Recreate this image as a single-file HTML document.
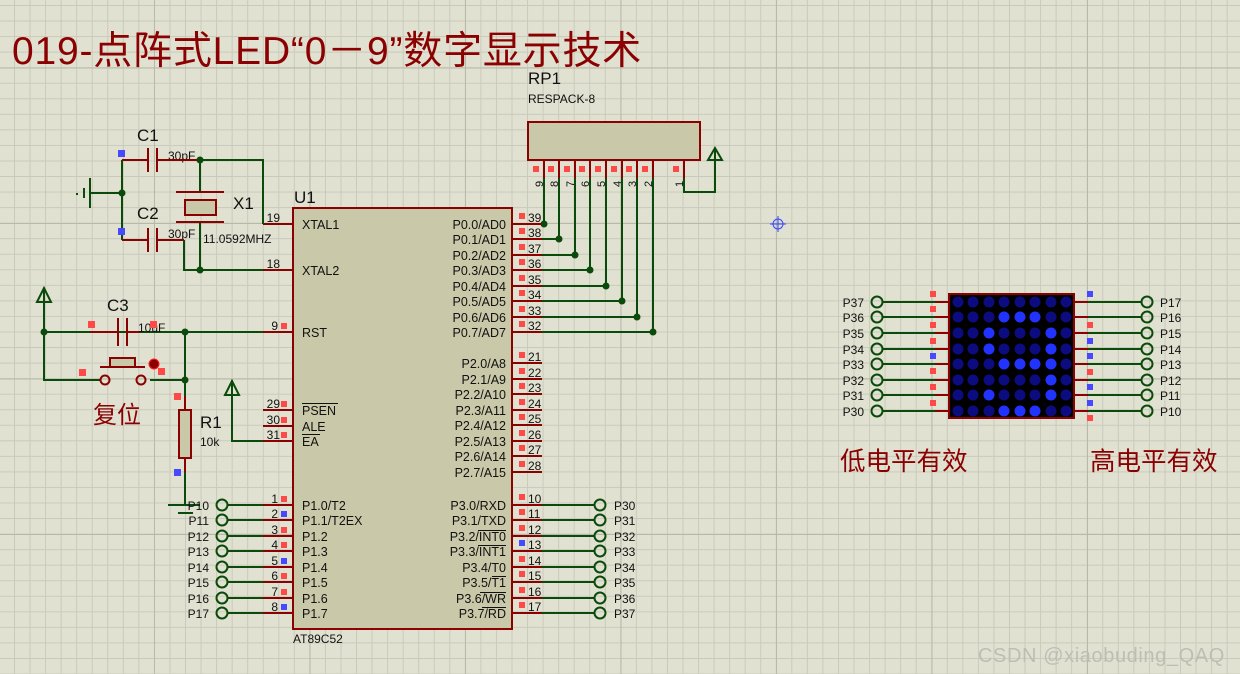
<!DOCTYPE html>
<html><head><meta charset="utf-8"><style>
html,body{margin:0;padding:0}
body{width:1240px;height:674px;overflow:hidden;background-color:#e1e1d2;
background-image:
linear-gradient(to right,#b9b9aa 1px,transparent 1px),
linear-gradient(to bottom,#b9b9aa 1px,transparent 1px),
linear-gradient(to right,#cacabb 1px,transparent 1px),
linear-gradient(to bottom,#cacabb 1px,transparent 1px);
background-size:155.5px 155.5px,155.5px 155.5px,15.55px 15.55px,15.55px 15.55px;
background-position:154px 0,0 223px,14px 0,0 5px;}
svg{position:absolute;left:0;top:0}
text{font-family:"Liberation Sans","Noto Sans CJK SC",sans-serif;fill:#111}
.w{stroke:#0a4a0a;stroke-width:2;fill:none}
.p{stroke:#8b0000;stroke-width:2;fill:none}
.j{fill:#0a4a0a}
.r{fill:#ff4848}.b{fill:#4848ff}
.t{stroke:#0a4a0a;stroke-width:2;fill:none}
.s{font-size:12.5px}
.d{fill:#0c0c80}.B{fill:#2233ff}
</style></head><body>
<svg width="1240" height="674" viewBox="0 0 1240 674">
<text x="12" y="64" font-size="39" letter-spacing="0.8" style="fill:#8b0000">019-点阵式LED“0－9”数字显示技术</text>

<!-- RP1 -->
<text x="528" y="84" font-size="17">RP1</text>
<text x="528" y="103" font-size="12">RESPACK-8</text>
<rect x="528" y="122" width="172" height="38" fill="#c9c9a9" stroke="#8b0000" stroke-width="2"/>
<g class="p"><path d="M544 160V178M559 160V178M575 160V178M590 160V178M606 160V178M622 160V178M637 160V178M653 160V178M684 160V178"/></g>
<g class="r"><rect x="533" y="166" width="6" height="6"/><rect x="548" y="166" width="6" height="6"/><rect x="564" y="166" width="6" height="6"/><rect x="579" y="166" width="6" height="6"/><rect x="595" y="166" width="6" height="6"/><rect x="611" y="166" width="6" height="6"/><rect x="626" y="166" width="6" height="6"/><rect x="642" y="166" width="6" height="6"/><rect x="673" y="166" width="6" height="6"/></g>
<g font-size="11">
<text transform="translate(543,187) rotate(-90)">9</text><text transform="translate(558,187) rotate(-90)">8</text><text transform="translate(574,187) rotate(-90)">7</text><text transform="translate(589,187) rotate(-90)">6</text><text transform="translate(605,187) rotate(-90)">5</text><text transform="translate(621,187) rotate(-90)">4</text><text transform="translate(636,187) rotate(-90)">3</text><text transform="translate(652,187) rotate(-90)">2</text><text transform="translate(683,187) rotate(-90)">1</text></g>
<path class="w" d="M544 178V224H542M559 178V239H542M575 178V255H542M590 178V270H542M606 178V286H542M622 178V301H542M637 178V317H542M653 178V332H542M684 178V192H715V160"/>
<path class="t" d="M715 160V148M708 160L715 148L722 160Z"/>
<g class="j"><circle cx="544" cy="224" r="3.5"/><circle cx="559" cy="239" r="3.5"/><circle cx="575" cy="255" r="3.5"/><circle cx="590" cy="270" r="3.5"/><circle cx="606" cy="286" r="3.5"/><circle cx="622" cy="301" r="3.5"/><circle cx="637" cy="317" r="3.5"/><circle cx="653" cy="332" r="3.5"/></g>

<!-- crosshair -->
<g stroke="#3344ff" stroke-width="1" fill="none"><circle cx="778" cy="224" r="5"/><path d="M770 224H786M778 216V232"/></g>

<!-- U1 -->
<text x="294" y="203" font-size="17">U1</text>
<rect x="293" y="208" width="219" height="421" fill="#c9c9a9" stroke="#8b0000" stroke-width="2"/>
<text x="293" y="643" font-size="12">AT89C52</text>
<g class="p"><path d="M263 224H293M263 270H293M263 332H293M263 410H293M263 426H293M263 441H293
M263 505H293M263 520H293M263 536H293M263 551H293M263 567H293M263 582H293M263 598H293M263 613H293
M512 224H542M512 239H542M512 255H542M512 270H542M512 286H542M512 301H542M512 317H542M512 332H542
M512 363H542M512 379H542M512 394H542M512 410H542M512 425H542M512 441H542M512 456H542M512 472H542
M512 505H542M512 520H542M512 536H542M512 551H542M512 567H542M512 582H542M512 598H542M512 613H542"/></g>
<g class="s">
<text x="302" y="229">XTAL1</text><text x="302" y="275">XTAL2</text><text x="302" y="337">RST</text>
<text x="302" y="415">PSEN</text><text x="302" y="431">ALE</text><text x="302" y="446">EA</text>
<text x="302" y="510">P1.0/T2</text><text x="302" y="525">P1.1/T2EX</text><text x="302" y="541">P1.2</text><text x="302" y="556">P1.3</text><text x="302" y="572">P1.4</text><text x="302" y="587">P1.5</text><text x="302" y="603">P1.6</text><text x="302" y="618">P1.7</text>
<g text-anchor="end">
<text x="506" y="229">P0.0/AD0</text><text x="506" y="244">P0.1/AD1</text><text x="506" y="260">P0.2/AD2</text><text x="506" y="275">P0.3/AD3</text><text x="506" y="291">P0.4/AD4</text><text x="506" y="306">P0.5/AD5</text><text x="506" y="322">P0.6/AD6</text><text x="506" y="337">P0.7/AD7</text>
<text x="506" y="368">P2.0/A8</text><text x="506" y="384">P2.1/A9</text><text x="506" y="399">P2.2/A10</text><text x="506" y="415">P2.3/A11</text><text x="506" y="430">P2.4/A12</text><text x="506" y="446">P2.5/A13</text><text x="506" y="461">P2.6/A14</text><text x="506" y="477">P2.7/A15</text>
<text x="506" y="510">P3.0/RXD</text><text x="506" y="525">P3.1/TXD</text><text x="506" y="541">P3.2/INT0</text><text x="506" y="556">P3.3/INT1</text><text x="506" y="572">P3.4/T0</text><text x="506" y="587">P3.5/T1</text><text x="506" y="603">P3.6/WR</text><text x="506" y="618">P3.7/RD</text>
</g></g>
<g stroke="#111" stroke-width="1"><path d="M302 403.5H338M302 434.5H320M478 530.5H506M478 545.5H506M492 576.5H506M480 592.5H506M482 607.5H506"/></g>
<g font-size="12" text-anchor="end">
<text x="280" y="222">19</text><text x="280" y="268">18</text><text x="278" y="330">9</text><text x="280" y="408">29</text><text x="280" y="424">30</text><text x="280" y="439">31</text>
<text x="278" y="503">1</text><text x="278" y="518">2</text><text x="278" y="534">3</text><text x="278" y="549">4</text><text x="278" y="565">5</text><text x="278" y="580">6</text><text x="278" y="596">7</text><text x="278" y="611">8</text>
</g>
<g font-size="12">
<text x="528" y="222">39</text><text x="528" y="237">38</text><text x="528" y="253">37</text><text x="528" y="268">36</text><text x="528" y="284">35</text><text x="528" y="299">34</text><text x="528" y="315">33</text><text x="528" y="330">32</text>
<text x="528" y="361">21</text><text x="528" y="377">22</text><text x="528" y="392">23</text><text x="528" y="408">24</text><text x="528" y="423">25</text><text x="528" y="439">26</text><text x="528" y="454">27</text><text x="528" y="470">28</text>
<text x="528" y="503">10</text><text x="528" y="518">11</text><text x="528" y="534">12</text><text x="528" y="549">13</text><text x="528" y="565">14</text><text x="528" y="580">15</text><text x="528" y="596">16</text><text x="528" y="611">17</text>
</g>
<g class="r">
<rect x="281" y="323" width="6" height="6"/><rect x="281" y="401" width="6" height="6"/><rect x="281" y="417" width="6" height="6"/><rect x="281" y="432" width="6" height="6"/><rect x="281" y="496" width="6" height="6"/><rect x="281" y="527" width="6" height="6"/><rect x="281" y="542" width="6" height="6"/><rect x="281" y="573" width="6" height="6"/><rect x="281" y="589" width="6" height="6"/>
<rect x="519" y="213" width="6" height="6"/><rect x="519" y="228" width="6" height="6"/><rect x="519" y="244" width="6" height="6"/><rect x="519" y="259" width="6" height="6"/><rect x="519" y="275" width="6" height="6"/><rect x="519" y="290" width="6" height="6"/><rect x="519" y="306" width="6" height="6"/><rect x="519" y="321" width="6" height="6"/>
<rect x="519" y="352" width="6" height="6"/><rect x="519" y="368" width="6" height="6"/><rect x="519" y="383" width="6" height="6"/><rect x="519" y="399" width="6" height="6"/><rect x="519" y="414" width="6" height="6"/><rect x="519" y="430" width="6" height="6"/><rect x="519" y="445" width="6" height="6"/><rect x="519" y="461" width="6" height="6"/>
<rect x="519" y="494" width="6" height="6"/><rect x="519" y="509" width="6" height="6"/><rect x="519" y="525" width="6" height="6"/><rect x="519" y="556" width="6" height="6"/><rect x="519" y="571" width="6" height="6"/><rect x="519" y="587" width="6" height="6"/><rect x="519" y="602" width="6" height="6"/>
</g>
<g class="b"><rect x="281" y="511" width="6" height="6"/><rect x="281" y="558" width="6" height="6"/><rect x="281" y="604" width="6" height="6"/><rect x="519" y="540" width="6" height="6"/></g>

<!-- crystal -->
<text x="137" y="141" font-size="17">C1</text><text x="137" y="219" font-size="17">C2</text>
<text x="168" y="160" font-size="12">30pF</text><text x="168" y="238" font-size="12">30pF</text>
<text x="233" y="209" font-size="17">X1</text><text x="203" y="243" font-size="12">11.0592MHZ</text>
<path class="w" d="M122 160V240M90 193H122M200 160H263V224M184 240V270H263M200 222V270M200 160V192"/>
<path class="p" d="M122 160H148M157 160H200M122 240H148M157 240H184M148 148V172M157 148V172M148 228V252M157 228V252M176 192H224M176 222H224"/>
<rect x="185" y="200" width="31" height="15" fill="#c9c9a9" stroke="#8b0000" stroke-width="2"/>
<path class="w" d="M90 178V208M84 188V198M77 193V195"/>
<g class="j"><circle cx="122" cy="193" r="3.5"/><circle cx="200" cy="160" r="3.5"/><circle cx="200" cy="270" r="3.5"/></g>
<g class="b"><rect x="118" y="150" width="7" height="7"/><rect x="118" y="228" width="7" height="7"/></g>

<!-- reset -->
<path class="t" d="M44 302V288M37 302L44 288L51 302Z"/>
<path class="w" d="M44 302V380H100M44 332H90M98 332H263M185 332V410M150 380H185M185 458V505M232 395V441H263"/>
<path class="t" d="M232 395V380M225 395L232 381L239 395Z"/>
<path class="p" d="M90 332H118M127 332H140M118 318V346M127 318V346M100 367H145M185 396V410M185 458V472"/>
<rect x="110" y="358" width="25" height="9" fill="#c9c9a9" stroke="#8b0000" stroke-width="2"/>
<circle cx="105" cy="380" r="4.5" fill="none" stroke="#8b0000" stroke-width="2"/>
<circle cx="141" cy="380" r="4.5" fill="none" stroke="#8b0000" stroke-width="2"/>
<circle cx="154" cy="364" r="5" fill="#8b0000" stroke="#ff2020"/>
<rect x="179" y="410" width="12" height="48" fill="#c9c9a9" stroke="#8b0000" stroke-width="2"/>
<path class="w" d="M168 505H200M178 513H193"/>
<g class="j"><circle cx="44" cy="332" r="3.5"/><circle cx="185" cy="332" r="3.5"/><circle cx="185" cy="380" r="3.5"/></g>
<text x="107" y="311" font-size="17">C3</text><text x="138" y="332" font-size="12">10uF</text>
<text x="200" y="428" font-size="17">R1</text><text x="200" y="446" font-size="12">10k</text>
<text x="93" y="423" font-size="24" style="fill:#8b0000">复位</text>
<g class="r"><rect x="88" y="321" width="7" height="7"/><rect x="150" y="321" width="7" height="7"/><rect x="79" y="369" width="7" height="7"/><rect x="158" y="368" width="7" height="7"/><rect x="174" y="393" width="7" height="7"/></g>
<rect x="174" y="469" width="7" height="7" class="b"/>

<!-- P1 terminals -->
<path class="w" d="M228 505H263M228 520H263M228 536H263M228 551H263M228 567H263M228 582H263M228 598H263M228 613H263"/>
<g fill="none" stroke="#0a4a0a" stroke-width="2"><circle cx="222" cy="505" r="5.5"/><circle cx="222" cy="520" r="5.5"/><circle cx="222" cy="536" r="5.5"/><circle cx="222" cy="551" r="5.5"/><circle cx="222" cy="567" r="5.5"/><circle cx="222" cy="582" r="5.5"/><circle cx="222" cy="598" r="5.5"/><circle cx="222" cy="613" r="5.5"/></g>
<g font-size="12" text-anchor="end"><text x="209" y="510">P10</text><text x="209" y="525">P11</text><text x="209" y="541">P12</text><text x="209" y="556">P13</text><text x="209" y="572">P14</text><text x="209" y="587">P15</text><text x="209" y="603">P16</text><text x="209" y="618">P17</text></g>

<!-- P3 terminals -->
<path class="w" d="M542 505H594M542 520H594M542 536H594M542 551H594M542 567H594M542 582H594M542 598H594M542 613H594"/>
<g fill="none" stroke="#0a4a0a" stroke-width="2"><circle cx="600" cy="505" r="5.5"/><circle cx="600" cy="520" r="5.5"/><circle cx="600" cy="536" r="5.5"/><circle cx="600" cy="551" r="5.5"/><circle cx="600" cy="567" r="5.5"/><circle cx="600" cy="582" r="5.5"/><circle cx="600" cy="598" r="5.5"/><circle cx="600" cy="613" r="5.5"/></g>
<g font-size="12"><text x="614" y="510">P30</text><text x="614" y="525">P31</text><text x="614" y="541">P32</text><text x="614" y="556">P33</text><text x="614" y="572">P34</text><text x="614" y="587">P35</text><text x="614" y="603">P36</text><text x="614" y="618">P37</text></g>

<!-- matrix -->
<path class="w" d="M883 302H935M883 317H935M883 333H935M883 349H935M883 364H935M883 380H935M883 395H935M883 411H935
M1088 302H1141M1088 317H1141M1088 333H1141M1088 349H1141M1088 364H1141M1088 380H1141M1088 395H1141M1088 411H1141"/>
<path class="p" d="M935 302H949M935 317H949M935 333H949M935 349H949M935 364H949M935 380H949M935 395H949M935 411H949
M1074 302H1088M1074 317H1088M1074 333H1088M1074 349H1088M1074 364H1088M1074 380H1088M1074 395H1088M1074 411H1088"/>
<g fill="none" stroke="#0a4a0a" stroke-width="2">
<circle cx="877" cy="302" r="5.5"/><circle cx="877" cy="317" r="5.5"/><circle cx="877" cy="333" r="5.5"/><circle cx="877" cy="349" r="5.5"/><circle cx="877" cy="364" r="5.5"/><circle cx="877" cy="380" r="5.5"/><circle cx="877" cy="395" r="5.5"/><circle cx="877" cy="411" r="5.5"/>
<circle cx="1147" cy="302" r="5.5"/><circle cx="1147" cy="317" r="5.5"/><circle cx="1147" cy="333" r="5.5"/><circle cx="1147" cy="349" r="5.5"/><circle cx="1147" cy="364" r="5.5"/><circle cx="1147" cy="380" r="5.5"/><circle cx="1147" cy="395" r="5.5"/><circle cx="1147" cy="411" r="5.5"/></g>
<g font-size="12" text-anchor="end"><text x="864" y="307">P37</text><text x="864" y="322">P36</text><text x="864" y="338">P35</text><text x="864" y="354">P34</text><text x="864" y="369">P33</text><text x="864" y="385">P32</text><text x="864" y="400">P31</text><text x="864" y="416">P30</text></g>
<g font-size="12"><text x="1160" y="307">P17</text><text x="1160" y="322">P16</text><text x="1160" y="338">P15</text><text x="1160" y="354">P14</text><text x="1160" y="369">P13</text><text x="1160" y="385">P12</text><text x="1160" y="400">P11</text><text x="1160" y="416">P10</text></g>
<g class="r"><rect x="930" y="291" width="6" height="6"/><rect x="930" y="306" width="6" height="6"/><rect x="930" y="322" width="6" height="6"/><rect x="930" y="338" width="6" height="6"/><rect x="930" y="368" width="6" height="6"/><rect x="930" y="384" width="6" height="6"/><rect x="930" y="400" width="6" height="6"/>
<rect x="1087" y="322" width="6" height="6"/><rect x="1087" y="369" width="6" height="6"/><rect x="1087" y="415" width="6" height="6"/></g>
<g class="b"><rect x="930" y="353" width="6" height="6"/><rect x="1087" y="291" width="6" height="6"/><rect x="1087" y="338" width="6" height="6"/><rect x="1087" y="353" width="6" height="6"/><rect x="1087" y="384" width="6" height="6"/><rect x="1087" y="400" width="6" height="6"/></g>
<rect x="949" y="294" width="125" height="124" fill="#000" stroke="#8b0000" stroke-width="2"/>
<g>
<g class="d"><circle cx="958" cy="302" r="5.5"/><circle cx="973" cy="302" r="5.5"/><circle cx="989" cy="302" r="5.5"/><circle cx="1004" cy="302" r="5.5"/><circle cx="1020" cy="302" r="5.5"/><circle cx="1035" cy="302" r="5.5"/><circle cx="1051" cy="302" r="5.5"/><circle cx="1066" cy="302" r="5.5"/></g>
<g class="d"><circle cx="958" cy="317" r="5.5"/><circle cx="973" cy="317" r="5.5"/><circle cx="989" cy="317" r="5.5"/><circle cx="1051" cy="317" r="5.5"/><circle cx="1066" cy="317" r="5.5"/></g>
<g class="B"><circle cx="1004" cy="317" r="5.5"/><circle cx="1020" cy="317" r="5.5"/><circle cx="1035" cy="317" r="5.5"/></g>
<g class="d"><circle cx="958" cy="333" r="5.5"/><circle cx="973" cy="333" r="5.5"/><circle cx="1004" cy="333" r="5.5"/><circle cx="1020" cy="333" r="5.5"/><circle cx="1035" cy="333" r="5.5"/><circle cx="1066" cy="333" r="5.5"/></g>
<g class="B"><circle cx="989" cy="333" r="5.5"/><circle cx="1051" cy="333" r="5.5"/></g>
<g class="d"><circle cx="958" cy="349" r="5.5"/><circle cx="973" cy="349" r="5.5"/><circle cx="1004" cy="349" r="5.5"/><circle cx="1020" cy="349" r="5.5"/><circle cx="1035" cy="349" r="5.5"/><circle cx="1066" cy="349" r="5.5"/></g>
<g class="B"><circle cx="989" cy="349" r="5.5"/><circle cx="1051" cy="349" r="5.5"/></g>
<g class="d"><circle cx="958" cy="364" r="5.5"/><circle cx="973" cy="364" r="5.5"/><circle cx="989" cy="364" r="5.5"/><circle cx="1066" cy="364" r="5.5"/></g>
<g class="B"><circle cx="1004" cy="364" r="5.5"/><circle cx="1020" cy="364" r="5.5"/><circle cx="1035" cy="364" r="5.5"/><circle cx="1051" cy="364" r="5.5"/></g>
<g class="d"><circle cx="958" cy="380" r="5.5"/><circle cx="973" cy="380" r="5.5"/><circle cx="989" cy="380" r="5.5"/><circle cx="1004" cy="380" r="5.5"/><circle cx="1020" cy="380" r="5.5"/><circle cx="1035" cy="380" r="5.5"/><circle cx="1066" cy="380" r="5.5"/></g>
<g class="B"><circle cx="1051" cy="380" r="5.5"/></g>
<g class="d"><circle cx="958" cy="395" r="5.5"/><circle cx="973" cy="395" r="5.5"/><circle cx="1004" cy="395" r="5.5"/><circle cx="1020" cy="395" r="5.5"/><circle cx="1035" cy="395" r="5.5"/><circle cx="1066" cy="395" r="5.5"/></g>
<g class="B"><circle cx="989" cy="395" r="5.5"/><circle cx="1051" cy="395" r="5.5"/></g>
<g class="d"><circle cx="958" cy="411" r="5.5"/><circle cx="973" cy="411" r="5.5"/><circle cx="989" cy="411" r="5.5"/><circle cx="1051" cy="411" r="5.5"/><circle cx="1066" cy="411" r="5.5"/></g>
<g class="B"><circle cx="1004" cy="411" r="5.5"/><circle cx="1020" cy="411" r="5.5"/><circle cx="1035" cy="411" r="5.5"/></g>
</g>
<text x="840" y="470" font-size="25.5" style="fill:#8b0000">低电平有效</text>
<text x="1090" y="470" font-size="25.5" style="fill:#8b0000">高电平有效</text>
<text x="978" y="662" font-size="20" letter-spacing="0.6" style="fill:#bdbdb4">CSDN @xiaobuding_QAQ</text>
</svg>
</body></html>
